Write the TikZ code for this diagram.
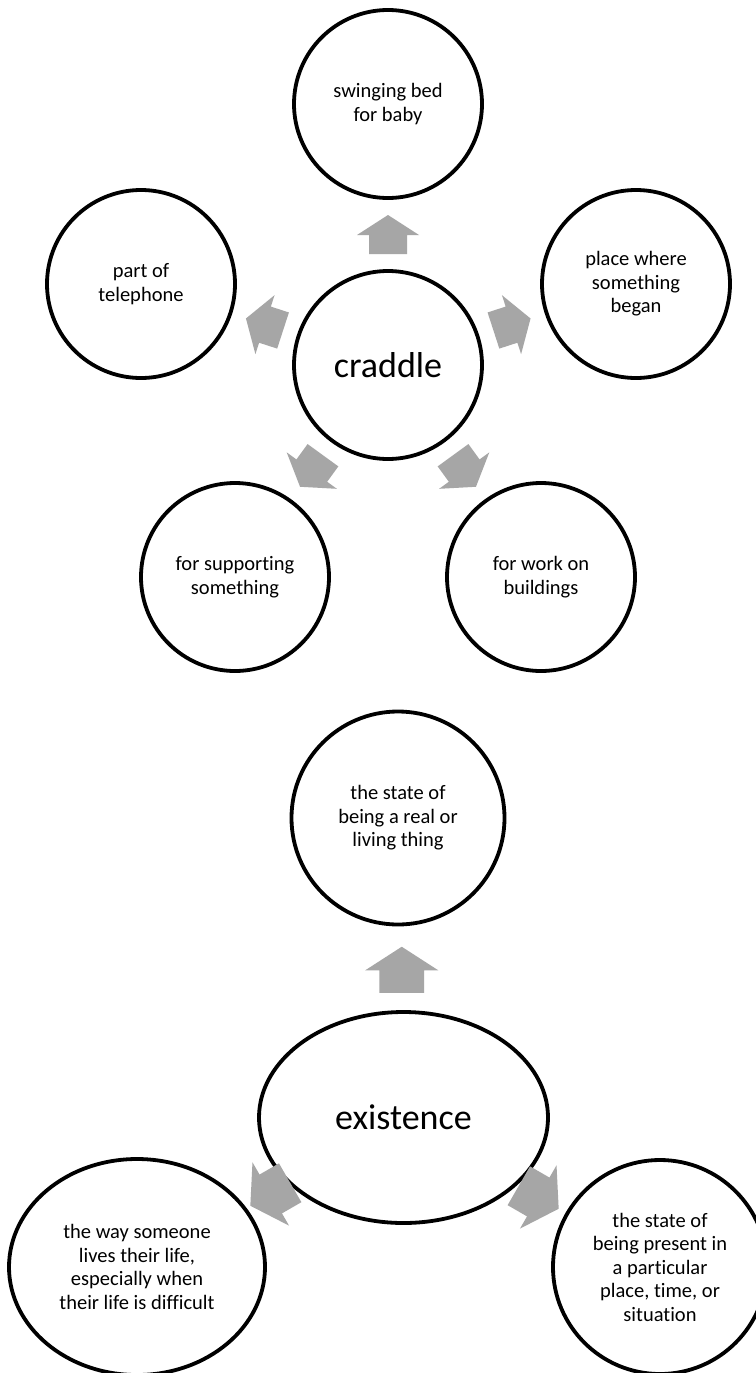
\documentclass[tikz,border=0pt]{standalone}
\usepackage{fontspec}
\setmainfont{Carlito}[Ligatures=NoCommon]
\usetikzlibrary{calc,shapes.geometric}
\definecolor{arrowgray}{RGB}{166,166,166}
\tikzset{
  bub/.style={circle, draw=black, line width=3.8pt, fill=white, align=center, inner sep=0pt, font=\fontsize{20.5}{23.5}\selectfont},
  ell/.style={ellipse, draw=black, line width=3.8pt, fill=white, align=center, inner sep=0pt, font=\fontsize{20.5}{23.5}\selectfont},
  bigtext/.style={font=\fontsize{36}{40}\selectfont},
  blockarrow/.style={fill=arrowgray},
}
\newcommand\blkarrow[5][0,0]{%
  \fill[blockarrow, shift={($(#2)!0.5!(#3)+(#1)$)}, rotate=#4, scale=#5]
    (0,-19.5) -- (31,0.5) -- (19,0.5) -- (19,19.5) -- (-19,19.5) -- (-19,0.5) -- (-31,0.5) -- cycle;}
\begin{document}
\begin{tikzpicture}[x=1pt,y=-1pt]
\useasboundingbox[fill=white] (0,0) rectangle (755,1373);
% top diagram
\node[bub, minimum size=188pt, bigtext] (cr) at (388,365) {craddle};
\node[bub, minimum size=188pt] (s1) at (388,104) {swinging bed\\for baby};
\node[bub, minimum size=188pt] (s2) at (141,284) {part of\\telephone};
\node[bub, minimum size=188pt] (s3) at (636,284) {place where\\something\\began};
\node[bub, minimum size=188pt] (s4) at (235,577) {for supporting\\something};
\node[bub, minimum size=188pt] (s5) at (541,577) {for work on\\buildings};
\blkarrow{cr}{s1}{0}{1}
\blkarrow{cr}{s2}{72}{1}
\blkarrow{cr}{s4}{144}{1}
\blkarrow{cr}{s5}{-144}{1}
\blkarrow{cr}{s3}{-72}{1}
% bottom diagram
\node[bub, minimum size=213pt] (st) at (398,818) {the state of\\being a real or\\living thing};
\node[ell, minimum width=289pt, minimum height=211pt, bigtext] (ex) at (403.5,1117.5) {existence};
\node[ell, minimum width=256pt, minimum height=216pt] (lf) at (137,1267) {the way someone\\lives their life,\\especially when\\their life is difficult};
\node[ell, minimum width=214pt, minimum height=214pt] (rt) at (660,1267) {the state of\\being present in\\a particular\\place, time, or\\situation};
\blkarrow[1,2]{ex}{st}{0}{1.18}
\blkarrow[0,2]{ex}{lf}{120}{1.18}
\blkarrow[7,5]{ex}{rt}{-120}{1.18}
\end{tikzpicture}
\end{document}
